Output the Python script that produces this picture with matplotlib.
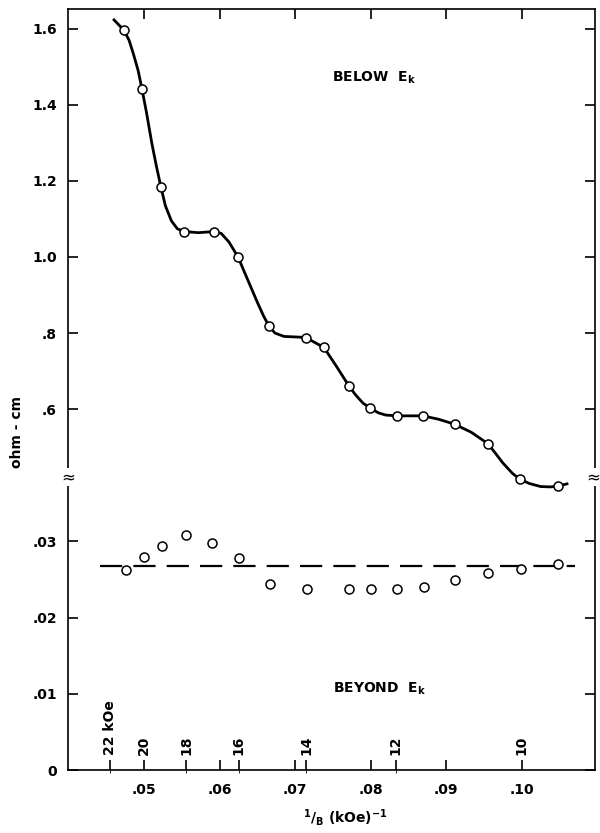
import matplotlib
matplotlib.use("Agg")
import matplotlib.pyplot as plt

plt.rcParams['font.family'] = ['DejaVu Sans']
plt.rcParams['font.weight'] = 'bold'
plt.rcParams['mathtext.default'] = 'bf'
plt.rcParams['mathtext.fontset'] = 'dejavusans'

# upper curve (below E_k), ohm-cm
upper_x = [0.0473, 0.0497, 0.0522, 0.0553, 0.0592, 0.0624, 0.0665, 0.0714, 0.0738,
           0.0771, 0.0799, 0.0835, 0.0869, 0.0911, 0.0955, 0.0998, 0.1048]
upper_y = [1.597, 1.442, 1.185, 1.067, 1.067, 1.001, 0.819, 0.788, 0.762,
           0.661, 0.603, 0.582, 0.582, 0.560, 0.509, 0.415, 0.397]

# hand drawn line
curve_x = [0.0460, 0.0473, 0.0480, 0.0486, 0.0492, 0.0497, 0.0503, 0.0510, 0.0516,
           0.0522, 0.0528, 0.0536, 0.0544, 0.0553, 0.0572, 0.0592, 0.0602, 0.0612,
           0.0624, 0.0636, 0.0650, 0.0658, 0.0665, 0.0673, 0.0685, 0.0707, 0.0714,
           0.0738, 0.0755, 0.0771, 0.0780, 0.0790, 0.0799, 0.0810, 0.0820, 0.0835,
           0.0869, 0.0890, 0.0911, 0.0933, 0.0955, 0.0965, 0.0975, 0.0988, 0.0998,
           0.1010, 0.1025, 0.1038, 0.1048, 0.1060]
curve_y = [1.624, 1.597, 1.570, 1.532, 1.490, 1.442, 1.380, 1.300, 1.240,
           1.185, 1.135, 1.095, 1.074, 1.067, 1.064, 1.067, 1.062, 1.040,
           1.001, 0.945, 0.880, 0.845, 0.819, 0.800, 0.791, 0.789, 0.788,
           0.762, 0.711, 0.661, 0.637, 0.615, 0.603, 0.590, 0.584, 0.582,
           0.582, 0.573, 0.560, 0.539, 0.509, 0.484, 0.458, 0.430, 0.415,
           0.404, 0.396, 0.395, 0.397, 0.403]

# lower points (beyond E_k)
lower_x = [0.0476, 0.0500, 0.0524, 0.0555, 0.0590, 0.0625, 0.0666, 0.0715, 0.0771,
           0.0800, 0.0835, 0.0870, 0.0911, 0.0955, 0.0999, 0.1048]
lower_y = [0.0262, 0.0279, 0.0294, 0.0308, 0.0298, 0.0278, 0.0244, 0.0238, 0.0238,
           0.0238, 0.0238, 0.0240, 0.0249, 0.0259, 0.0264, 0.0270]
level_x = [0.0441, 0.1070]
level_y = [0.0268, 0.0268]

x_ticks = [0.05, 0.06, 0.07, 0.08, 0.09, 0.10]
x_labels = ['.05', '.06', '.07', '.08', '.09', '.10']
low_ticks = [0, 0.01, 0.02, 0.03]
low_labels = ['0', '.01', '.02', '.03']
up_ticks = [0.6, 0.8, 1.0, 1.2, 1.4, 1.6]
up_labels = ['.6', '.8', '1.0', '1.2', '1.4', '1.6']
fields = [22, 20, 18, 16, 14, 12, 10]
field_labels = ['22 kOe', '20', '18', '16', '14', '12', '10']

fig = plt.figure(figsize=(6, 8.33), dpi=100)
rect = [0.1133, 0.0756, 0.8783, 0.9136]
ax = fig.add_axes(rect)
ax2 = fig.add_axes(rect, sharex=ax)
ax2.patch.set_visible(False)
for s in ax2.spines.values():
    s.set_visible(False)

ax.set_xlim(0.0399, 0.1097)
ax.set_ylim(0, 0.0999)
ax2.set_ylim(-0.35, 1.6526)

for s in ax.spines.values():
    s.set_linewidth(1.2)

ax.set_xticks(x_ticks)
ax.set_xticklabels(x_labels)
ax.set_xticks([1.0 / f for f in fields if f not in (20, 10)], minor=True)
ax.tick_params(axis='x', which='both', direction='in', top=True, length=7,
               width=1.2, labelsize=10, pad=9)
ax.tick_params(axis='x', which='minor', top=False)
ax.set_yticks(low_ticks)
ax.set_yticklabels(low_labels)
ax.tick_params(axis='y', direction='in', right=True, length=7, width=1.2,
               labelsize=10, pad=8)

ax2.set_yticks(up_ticks)
ax2.set_yticklabels(up_labels)
ax2.tick_params(axis='y', direction='in', left=True, right=True, labelleft=True,
                length=7, width=1.2, labelsize=10, pad=8)
ax2.tick_params(axis='x', bottom=False, labelbottom=False)

# beyond E_k
ax.plot(level_x, level_y, color='black', lw=1.6, dashes=(10, 5))
ax.plot(lower_x, lower_y, 'o', ms=6.5, mfc='white', mec='black', mew=1.1)

# below E_k
ax2.plot(curve_x, curve_y, color='black', lw=2, solid_joinstyle='round')
ax2.plot(upper_x, upper_y, 'o', ms=6.5, mfc='white', mec='black', mew=1.1, zorder=3)

for f, lab in zip(fields, field_labels):
    ax.text(1.0 / f, 0.002, lab, rotation=90, ha='center', va='bottom', fontsize=10)

ax2.text(0.0749, 1.471, r'BELOW  E$_{k}$', fontsize=10, va='center')
ax.text(0.0750, 0.0106, r'BEYOND  E$_{k}$', fontsize=10, va='center')

# axis break marks
for xa in (0, 0.997):
    ax.text(xa, 0.385, '≈', transform=ax.transAxes, ha='center', va='center',
            fontsize=12, fontweight='normal',
            bbox=dict(facecolor='white', edgecolor='none', pad=0))

fig.text(17 / 600, 1 - 432 / 833, 'ohm - cm', rotation=90, ha='center', va='center',
         fontsize=10)
fig.text(345 / 600, 1 - 818 / 833, r'$^{1}/_{B}$ (kOe)$^{-1}$', ha='center',
         va='center', fontsize=10)

fig.savefig('out.png', dpi=100)
